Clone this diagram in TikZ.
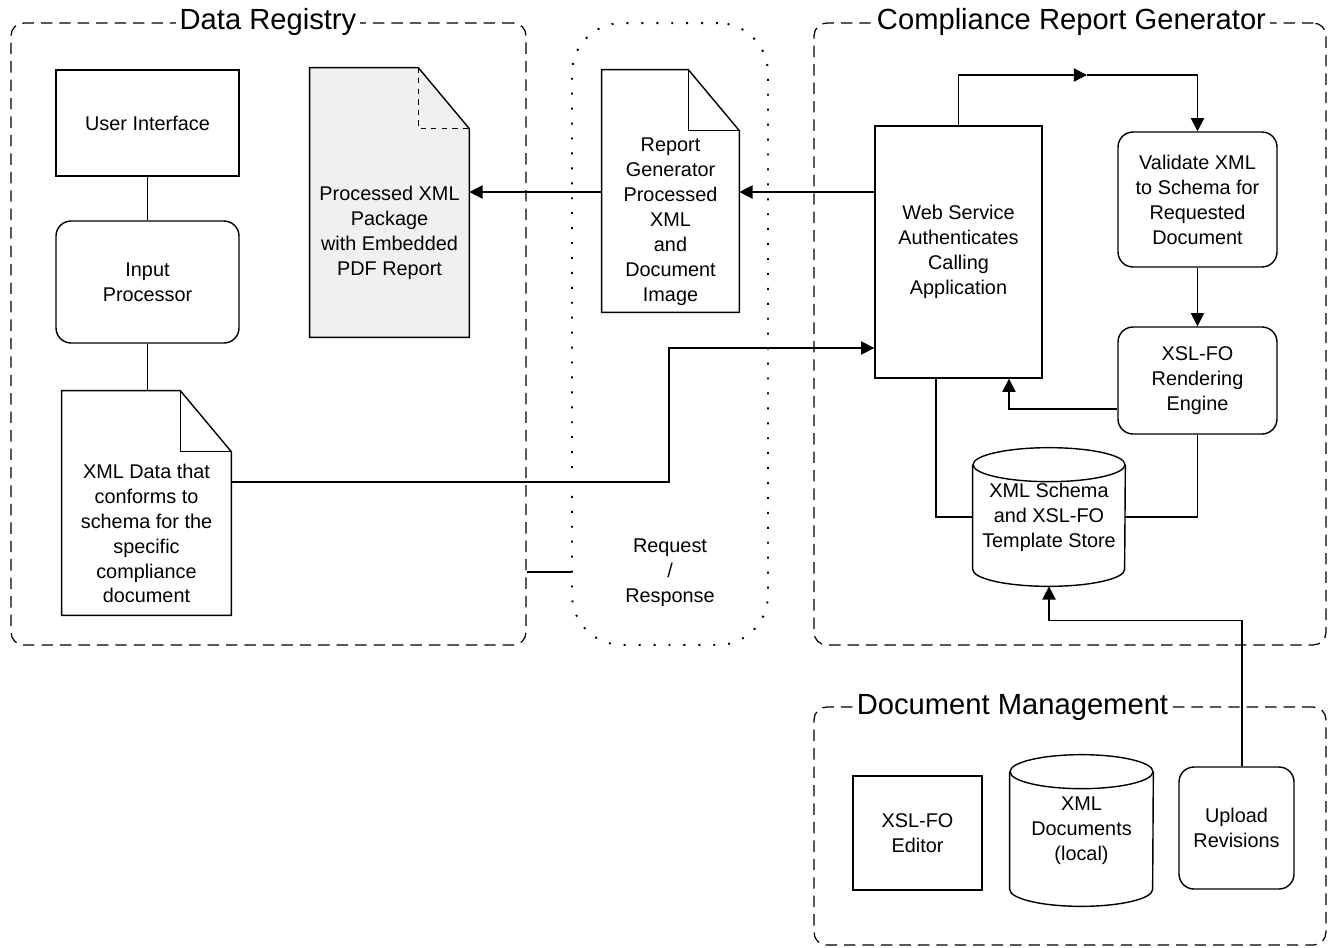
\documentclass[tikz,border=0pt]{standalone}
\usepackage{fontspec}
\setmainfont{Liberation Sans}
\usetikzlibrary{arrows.meta,backgrounds}
\definecolor{papier}{RGB}{240,240,240}

\begin{document}
\begin{tikzpicture}[x=0.02cm, y=-0.02cm,
  every node/.style={font=\fontsize{11.3}{14.2}\selectfont, align=center},
  trait/.style={line width=0.8pt},
  fleche/.style={trait, -{Triangle[length=7.5pt,width=7.5pt]}},
  boite/.style={draw, trait, inner sep=2pt},
  arrondi/.style={boite, rounded corners=0.3cm},
  doc/.style={inner sep=0pt},
  groupe/.style={draw, line width=0.7pt, dash pattern=on 6.5pt off 4pt, rounded corners=0.25cm},
  titre/.style={fill=white, inner xsep=2pt, inner ysep=1pt, font=\fontsize{16.6}{20}\selectfont}]
\def\plix{1.02cm}
\def\pliy{1.22cm}
\def\ry{0.34cm}

\useasboundingbox (0,0) rectangle (1328,947);

% groupes
\node[groupe, minimum width=10.3cm, minimum height=12.44cm] (registry) at (268.5,334) {};
\node[groupe, minimum width=10.24cm, minimum height=12.44cm] (compliance) at (1070,334) {};
\node[groupe, minimum width=10.24cm, minimum height=4.76cm] (docmgmt) at (1070,826) {};
\node[draw, line width=1.1pt, dash pattern=on 1.1pt off 7.4pt, rounded corners=1cm,
      minimum width=3.92cm, minimum height=12.44cm] (reqresp) at (670,334) {};

\node[titre] (regtitre) at (268,22) {Data Registry};
\node[titre] (comptitre) at (1071.5,22) {Compliance Report Generator};
\node[titre] (doctitre) at (1012.5,707) {Document Management};

% data registry
\node[boite, minimum width=3.66cm, minimum height=2.12cm] (ui) at (147.5,123) {User Interface};
\node[arrondi, minimum width=3.66cm, minimum height=2.44cm] (inproc) at (147.5,282) {Input\\Processor};
\node[doc, minimum width=3.38cm, minimum height=3.26cm] (xmldata) at (146.5,533.5)
  {XML Data that\\conforms to\\schema for the\\specific\\compliance\\document};
\node[doc, minimum width=3.18cm, minimum height=4.16cm] (processed) at (389.5,233)
  {Processed XML\\Package\\with Embedded\\PDF Report};

% request / response
\node[doc, minimum width=2.74cm, minimum height=3.62cm] (report) at (670.5,221.5)
  {Report\\Generator\\Processed\\XML\\and\\Document\\Image};
\node (reqtexte) at (670,573) {Request\\/\\Response};

% compliance report generator
\node[boite, minimum width=3.34cm, minimum height=5.04cm] (websvc) at (958.5,252)
  {Web Service\\Authenticates\\Calling\\Application};
\node[arrondi, minimum width=3.18cm, minimum height=2.7cm] (validate) at (1197.5,199.5)
  {Validate XML\\to Schema for\\Requested\\Document};
\node[arrondi, minimum width=3.18cm, minimum height=2.14cm] (xslfo) at (1197.5,380.5)
  {XSL-FO\\Rendering\\Engine};
\node[doc, minimum width=3.04cm, minimum height=2.08cm] (store) at (1049,517)
  {XML Schema\\and XSL-FO\\Template Store};

% document management
\node[boite, minimum width=2.58cm, minimum height=2.28cm] (editor) at (917.5,833) {XSL-FO\\Editor};
\node[doc, minimum width=2.86cm, minimum height=2.34cm] (xmldocs) at (1081.5,830.5)
  {XML\\Documents\\(local)};
\node[arrondi, minimum width=2.3cm, minimum height=2.44cm] (upload) at (1236.5,828) {Upload\\Revisions};

% documents a coin plie
\begin{scope}[on background layer]
\foreach \n/\c in {xmldata/white, report/white, processed/papier} {
  \draw[trait, fill=\c] (\n.south west) -- ([yshift=\pliy]\n.north west)
    -- ([xshift=-\plix, yshift=\pliy]\n.north east) -- (\n.north east) -- (\n.south east) -- cycle;
}
\foreach \n in {xmldata, report} {
  \draw[trait] ([xshift=-\plix, yshift=\pliy]\n.north east) |- (\n.north east);
}
\draw[trait, dashed] ([xshift=-\plix, yshift=\pliy]processed.north east) |- (processed.north east);
\end{scope}

% cylindres
\foreach \n/\rx in {store/1.52cm, xmldocs/1.43cm} {
  \draw[trait] (\n.north west) -- (\n.south west)
    arc[start angle=180, end angle=360, x radius=\rx, y radius=\ry] -- (\n.north east);
  \draw[trait] (\n.north) ellipse [x radius=\rx, y radius=\ry];
}

% liaisons
\coordinate (rangA) at (0,192);
\coordinate (rangB) at (0,348);
\coordinate (rangC) at (0,482);
\coordinate (rangD) at (0,572);
\coordinate (coude) at (669,0);
\coordinate (milieu) at (1087,75);
\coordinate (xmldatatop) at ([yshift=\pliy]xmldata.north);
\coordinate (storebas) at ([yshift=-\ry]store.south);

\draw[trait] (ui) -- (inproc);
\draw[trait] (inproc.south) -- (inproc.south |- xmldatatop);
\draw[fleche] (websvc.west |- rangA) -- (report.east |- rangA);
\draw[fleche] (report.west |- rangA) -- (processed.east |- rangA);
\draw[fleche] (xmldata.east |- rangC) -- (coude |- rangC) -- (coude |- rangB) -- (websvc.west |- rangB);
\draw[trait] (registry.east |- rangD) -- (reqresp.west |- rangD);
\draw[fleche] (websvc.north) |- (milieu);
\draw[fleche] (milieu) -| (validate.north);
\draw[fleche] (validate) -- (xslfo);
\draw[fleche] ([yshift=-0.57cm]xslfo.west) -| ([xshift=1.01cm]websvc.south);
\draw[trait] ([xshift=-0.45cm]websvc.south) |- (store.west);
\draw[trait] (xslfo.south) |- (store.east);
\draw[fleche] ([xshift=0.11cm]upload.north) |- ([yshift=-0.68cm]storebas) -- (storebas);
\end{tikzpicture}
\end{document}
